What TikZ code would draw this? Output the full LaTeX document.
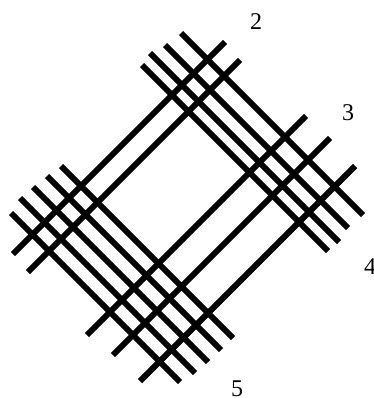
\documentclass[tikz,border=0pt]{standalone}
\usepackage{fontspec}
\setmainfont{Liberation Serif}
\usepackage{tikz}

\begin{document}
\begin{tikzpicture}[x=1pt, y=-1pt,
    bar/.style={draw=black, line width=6pt},
    num/.style={font=\fontsize{24}{24}\selectfont, text=black, inner sep=0pt}
]
\useasboundingbox (0,0) rectangle (373,398);
\clip (0,0) rectangle (373,398);

% --- rising bars, upper-left pair ---
\draw[bar] (13,254) -- (225,42);
\draw[bar] (28,272) -- (240,60);

% --- rising bars, lower-right triple ---
\draw[bar] (87,335) -- (306,116);
\draw[bar] (113,355) -- (330,138);
\draw[bar] (140,381) -- (355,166);

% --- falling bars, upper-right group ---
\draw[bar] (181,33) -- (363,215);
\draw[bar] (165,45) -- (348,228);
\draw[bar] (150,53) -- (339,242);
\draw[bar] (142,65) -- (328,251);

% --- falling bars, lower-left group ---
\draw[bar] (61,166) -- (233,338);
\draw[bar] (47,176) -- (221,350);
\draw[bar] (33,187) -- (208,362);
\draw[bar] (20,198) -- (195,373);
\draw[bar] (11,213) -- (180,382);

% --- labels ---
\node[num] (n2) at (256,22) {2};
\node[num] (n3) at (348,113) {3};
\node[num] (n4) at (370,267) {4};
\node[num] (n5) at (237,389) {5};

\end{tikzpicture}
\end{document}
